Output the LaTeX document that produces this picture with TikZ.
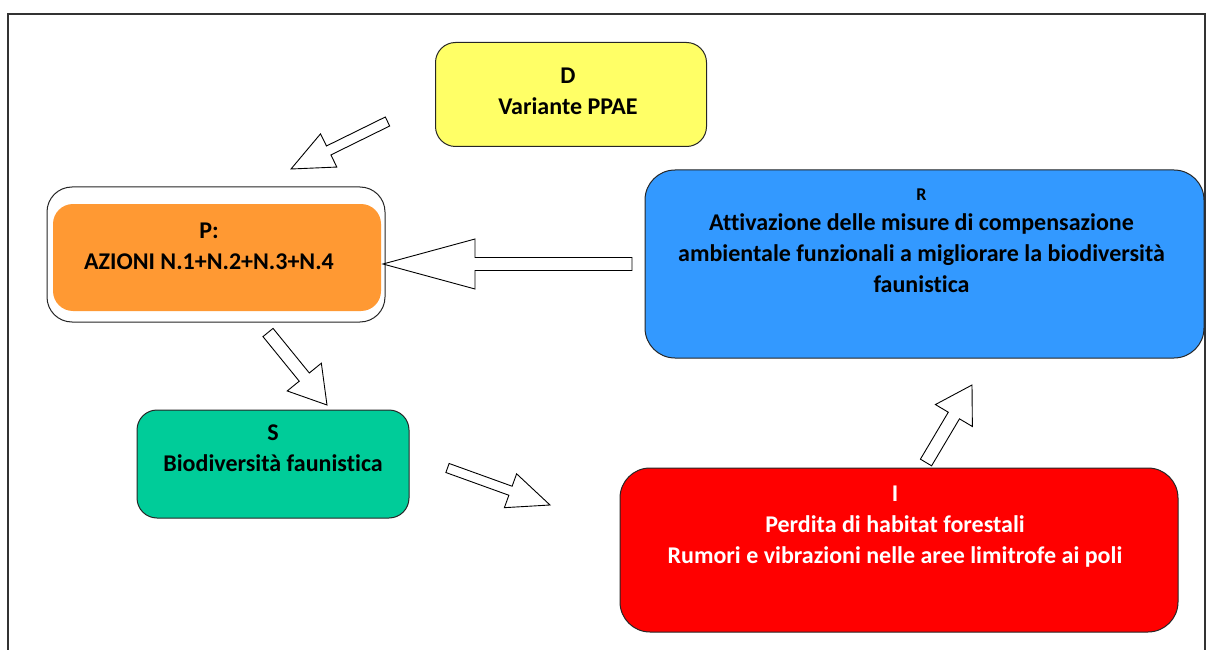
\documentclass[tikz,border=0pt]{standalone}
\usepackage{fontspec}
\setmainfont{Carlito}[Ligatures=NoCommon]
\usetikzlibrary{calc,positioning}
\definecolor{dyellow}{HTML}{FFFF66}
\definecolor{porange}{HTML}{FF9933}
\definecolor{sgreen}{HTML}{00CC99}
\definecolor{ired}{HTML}{FF0000}
\definecolor{rblue}{HTML}{3399FF}
\tikzset{
  box/.style={rectangle, rounded corners=20pt, draw=black!85, line width=1pt, inner sep=0pt},
  txt/.style={align=center, inner sep=0pt, font=\bfseries\fontsize{24}{31}\selectfont},
  barrow/.style={draw=black, fill=white, line width=0.9pt, line join=miter},
}
% block arrow: tail, tip, half shaft, half head, head length
\newcommand{\blockarrow}[5]{%
  \coordinate (hb) at ($(#2)!#5!(#1)$);
  \draw[barrow] ($(#1)!#3!90:(#2)$) -- ($(hb)!#3!-90:(#1)$) -- ($(hb)!#4!-90:(#1)$) -- (#2)
    -- ($(hb)!#4!90:(#1)$) -- ($(hb)!#3!90:(#1)$) -- ($(#1)!#3!-90:(#2)$) -- cycle;
}

\begin{document}
\begin{tikzpicture}[x=1pt, y=-1pt]
  \useasboundingbox (0,0) rectangle (1208,650);
  \draw[line width=1.6pt, draw=black!80] (8,650) |- (1205,14) -- (1205,650);

  % boxes
  \node (dbox) [box, fill=dyellow, minimum width=271pt, minimum height=104pt] at (571,94.5) {};
  \node (pouter) [box, fill=white, rounded corners=25pt, minimum width=338pt, minimum height=135pt] at (216,254.5) {};
  \node (pbox) [box, draw=none, fill=porange, minimum width=328pt, minimum height=107pt] at (217,257.5) {};
  \node (sbox) [box, fill=sgreen, minimum width=272pt, minimum height=108pt] at (273,464) {};
  \node (ibox) [box, fill=ired, rounded corners=30pt, minimum width=558pt, minimum height=164pt] at (899,550) {};
  \node (rbox) [box, fill=rblue, rounded corners=30pt, minimum width=559pt, minimum height=188pt] at (924.5,264) {};

  % texts
  \node (dtext) [txt, below=26pt of dbox.north, xshift=-3pt] {D\\Variante PPAE};
  \node (ptext) [txt, below=19pt of pbox.north, xshift=-8pt] {P:\\AZIONI N.1+N.2+N.3+N.4};
  \node (stext) [txt, below=15pt of sbox.north] {S\\Biodiversità faunistica};
  \node (itext) [txt, text=white, below=18pt of ibox.north, xshift=-4pt] {I\\Perdita di habitat forestali\\Rumori e vibrazioni nelle aree limitrofe ai poli};
  \node (rtext) [txt, below=19pt of rbox.north, xshift=-3pt] {{\fontsize{18}{20}\selectfont R}\\[-1pt]Attivazione delle misure di compensazione\\ambientale funzionali a migliorare la biodiversità\\faunistica};

  % arrow ends
  \coordinate (dp1) at (387.5,121.5);
  \coordinate (dp2) at (291,169);
  \coordinate (rp1) at (632,264);
  \coordinate (rp2) at (383,264);
  \coordinate (ps1) at (268,332.5);
  \coordinate (ps2) at (327,405);
  \coordinate (si1) at (447.5,468);
  \coordinate (si2) at (550,505);
  \coordinate (ir1) at (926,462.5);
  \coordinate (ir2) at (972,385);

  \blockarrow{dp1}{dp2}{5pt}{18.5pt}{42pt}
  \blockarrow{rp1}{rp2}{6.5pt}{25pt}{92pt}
  \blockarrow{ps1}{ps2}{6.5pt}{22pt}{36pt}
  \blockarrow{si1}{si2}{4.8pt}{18pt}{42pt}
  \blockarrow{ir1}{ir2}{6.5pt}{21.5pt}{35.5pt}
\end{tikzpicture}
\end{document}
